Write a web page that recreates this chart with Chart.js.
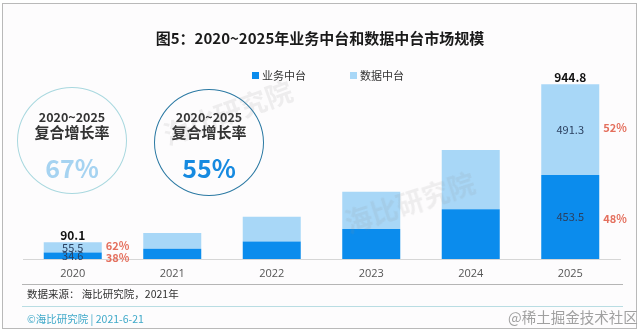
<!DOCTYPE html>
<html>
<head>
<meta charset="utf-8">
<script src="https://cdn.jsdelivr.net/npm/chart.js@4.4.1/dist/chart.umd.min.js"></script>
<style>
  html, body { margin: 0; padding: 0; background: #ffffff; }
  #wrap { position: relative; width: 640px; height: 334px; overflow: hidden; background: #fff;
          font-family: "Noto Sans CJK SC", "Noto Sans", sans-serif; }
  #frame { position: absolute; left: 2px; top: 3px; width: 633px; height: 324px;
           border: 1.5px solid #b9b9b9; background: #fdfcfd; }
  #c { position: absolute; left: 0; top: 0; }
  .abs { position: absolute; white-space: nowrap; }
  #title { left: 0; width: 640px; top: 27px; text-align: center; font-size: 15px; font-weight: bold; color: #1a1a1a; }
  .circle { position: absolute; border-radius: 50%; box-sizing: border-box; }
  .cTxt { text-align: center; color: #333; font-weight: bold; }
  #legend { left: 252px; top: 67px; font-size: 11px; color: #333; }
  #legend span.item { margin-right: 44px; }
  #legend i { display: inline-block; width: 7px; height: 7px; margin-right: 3px; vertical-align: 1px; }
  .wm { color: rgba(140,140,140,0.13); font-size: 27px; font-weight: bold; transform-origin: center; }
</style>
</head>
<body>
<div id="wrap">
  <div id="frame"></div>
  <canvas id="c" width="640" height="334"></canvas>
  <div id="title" class="abs">图5：2020~2025年业务中台和数据中台市场规模</div>
  <div id="legend" class="abs"></div>

  <div class="circle" style="left:17px;top:87px;width:110px;height:107px;border:1px solid #a9d8df;"></div>
  <div class="abs cTxt" style="left:17px;width:110px;top:107px;font-size:12.5px;">2020~2025</div>
  <div class="abs cTxt" style="left:17px;width:110px;top:121px;font-size:15px;">复合增长率</div>
  <div class="abs cTxt" style="left:17px;width:110px;top:149px;font-size:25px;color:#a6d3f1;">67%</div>

  <div class="circle" style="left:154px;top:89px;width:110px;height:107px;border:1.5px solid #2b79a3;"></div>
  <div class="abs cTxt" style="left:154px;width:110px;top:107px;font-size:12.5px;">2020~2025</div>
  <div class="abs cTxt" style="left:154px;width:110px;top:121px;font-size:15px;">复合增长率</div>
  <div class="abs cTxt" style="left:154px;width:110px;top:149px;font-size:25px;color:#168ae0;">55%</div>

  <div class="abs" style="left:22px;top:284px;width:601px;height:1px;background:#b5b5b5;"></div>
  <div class="abs" style="left:27px;top:286px;font-size:10.5px;color:#333;">数据来源：&nbsp;海比研究院，2021年</div>
  <div class="abs" style="left:22px;top:306px;width:601px;height:1px;background:#b9dde3;"></div>
  <div class="abs" style="left:27px;top:311px;font-size:10.5px;color:#3fa9c9;">©海比研究院&nbsp;|&nbsp;2021-6-21</div>
  <div class="abs" style="left:508px;top:306px;font-size:14.5px;color:#a0a0a0;">@稀土掘金技术社区</div>

  <div class="abs wm" style="left:160px;top:92px;transform:rotate(-20deg);">海比研究院</div>
  <div class="abs wm" style="left:342px;top:182px;transform:rotate(-18deg);">海比研究院</div>
</div>

<script>
const years = ['2020', '2021', '2022', '2023', '2024', '2025'];
const bizValues = [34.6, 55, 94, 162, 269, 453.5];     // 业务中台
const dataValues = [55.5, 85, 135, 202, 320, 491.3];   // 数据中台
const seriesNames = ['业务中台', '数据中台'];
const labelledYears = [0, 5];

const valueLabels = {
  id: 'valueLabels',
  afterDatasetsDraw(chart) {
    const ctx = chart.ctx;
    const m0 = chart.getDatasetMeta(0);
    const m1 = chart.getDatasetMeta(1);
    ctx.save();
    labelledYears.forEach(i => {
      const b0 = m0.data[i], b1 = m1.data[i];
      const total = bizValues[i] + dataValues[i];
      const right = b0.x + b0.width / 2 + 4;

      ctx.textAlign = 'center';
      ctx.textBaseline = 'bottom';
      ctx.fillStyle = '#111';
      ctx.font = 'bold 12px "Noto Sans CJK SC"';
      ctx.fillText(total.toFixed(1), b1.x, b1.y - 1);

      ctx.textBaseline = 'middle';
      ctx.font = '11px "Noto Sans CJK SC"';
      ctx.fillStyle = '#2b4060';
      const c1 = (b1.y + b1.base) / 2;
      const c0 = (b0.y + b0.base) / 2;
      ctx.fillText(dataValues[i].toFixed(1), b1.x, c1);
      ctx.fillText(bizValues[i].toFixed(1), b0.x, c0);

      ctx.textAlign = 'left';
      ctx.fillStyle = '#e46f5d';
      ctx.font = 'bold 11px "Noto Sans CJK SC"';
      ctx.fillText(Math.round(dataValues[i] / total * 100) + '%', right, c1 - 2);
      ctx.fillText(Math.round(bizValues[i] / total * 100) + '%', right, c0 + 2);
    });
    ctx.restore();
  }
};

const chart = new Chart(document.getElementById('c'), {
  type: 'bar',
  data: {
    labels: years,
    datasets: [
      { label: seriesNames[0], data: bizValues, backgroundColor: '#0b8ced' },
      { label: seriesNames[1], data: dataValues, backgroundColor: '#a8d7f7' }
    ]
  },
  options: {
    responsive: false,
    animation: false,
    layout: { padding: { left: 23, right: 20, top: 74, bottom: 55 } },
    datasets: { bar: { categoryPercentage: 1, barPercentage: 0.583 } },
    plugins: { legend: { display: false }, tooltip: { enabled: false } },
    scales: {
      x: {
        stacked: true,
        grid: { display: false, drawTicks: false },
        border: { display: true, color: '#d6d6d6', width: 1 },
        ticks: { padding: 8, color: '#555', font: { size: 11, family: 'Open Sans' } },
        afterFit(scale) { scale.height = 20; }
      },
      y: { stacked: true, display: false, min: 0, max: 1000 }
    }
  },
  plugins: [valueLabels]
});

document.getElementById('legend').innerHTML = chart.data.datasets.map(ds =>
  '<span class="item"><i style="background:' + ds.backgroundColor + '"></i>' + ds.label + '</span>'
).join('');
</script>
</body>
</html>
